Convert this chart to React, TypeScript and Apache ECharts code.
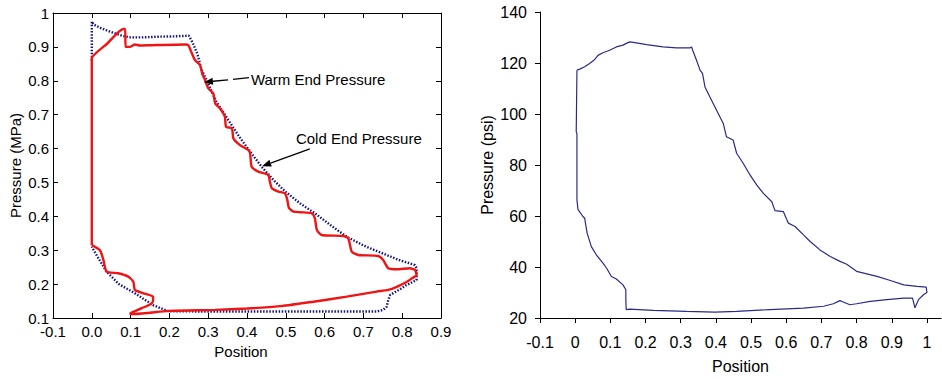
import React, { useEffect, useRef } from 'react';
import * as echarts from 'echarts';

// Left panel: pressure (MPa) vs position
const warmEndPressure: [number, number][] = [
  [0.0, 0.315], [0.0, 0.85], [0.0, 0.866], [0.04, 0.91], [0.081, 0.953], [0.086, 0.953],
  [0.087, 0.9], [0.098, 0.9], [0.111, 0.907], [0.124, 0.904], [0.154, 0.905], [0.24, 0.907],
  [0.249, 0.905], [0.256, 0.886], [0.266, 0.861], [0.279, 0.846], [0.285, 0.82], [0.292, 0.802],
  [0.3, 0.778], [0.313, 0.763], [0.318, 0.733], [0.33, 0.719], [0.343, 0.694], [0.346, 0.664],
  [0.361, 0.66], [0.365, 0.63], [0.382, 0.61], [0.403, 0.596], [0.408, 0.586], [0.412, 0.546],
  [0.429, 0.532], [0.455, 0.522], [0.459, 0.502], [0.464, 0.483], [0.481, 0.473], [0.498, 0.468],
  [0.504, 0.448], [0.508, 0.425], [0.52, 0.414], [0.537, 0.412], [0.567, 0.409], [0.575, 0.394],
  [0.58, 0.36], [0.592, 0.345], [0.648, 0.342], [0.661, 0.335], [0.67, 0.296], [0.687, 0.286],
  [0.738, 0.283], [0.751, 0.271], [0.764, 0.247], [0.786, 0.244], [0.82, 0.247], [0.833, 0.242],
  [0.837, 0.227], [0.825, 0.217], [0.811, 0.206], [0.786, 0.192], [0.764, 0.183], [0.734, 0.178],
  [0.657, 0.163], [0.571, 0.148], [0.485, 0.135], [0.4, 0.128], [0.318, 0.124], [0.197, 0.121],
  [0.111, 0.112], [0.098, 0.112], [0.103, 0.116], [0.129, 0.129], [0.155, 0.143], [0.158, 0.155],
  [0.158, 0.163], [0.133, 0.173], [0.111, 0.183], [0.107, 0.207], [0.094, 0.222], [0.068, 0.232],
  [0.038, 0.237], [0.03, 0.271], [0.021, 0.3], [0.0, 0.315],
];

const coldEndPressure: [number, number][] = [
  [0.0, 0.86], [0.0, 0.975], [0.005, 0.966], [0.02, 0.957], [0.04, 0.948], [0.06, 0.94],
  [0.08, 0.932], [0.1, 0.928], [0.13, 0.928], [0.17, 0.93], [0.21, 0.931], [0.25, 0.933],
  [0.26, 0.912], [0.272, 0.88], [0.283, 0.832], [0.296, 0.802], [0.32, 0.74], [0.352, 0.684],
  [0.38, 0.635], [0.408, 0.591], [0.438, 0.546], [0.47, 0.505], [0.5, 0.472], [0.537, 0.438],
  [0.575, 0.409], [0.62, 0.37], [0.657, 0.34], [0.7, 0.314], [0.738, 0.296], [0.79, 0.272],
  [0.833, 0.256], [0.837, 0.247], [0.837, 0.212], [0.811, 0.197], [0.799, 0.188], [0.769, 0.168],
  [0.764, 0.153], [0.76, 0.133], [0.751, 0.124], [0.734, 0.119], [0.6, 0.119], [0.5, 0.119],
  [0.4, 0.119], [0.3, 0.119], [0.197, 0.12], [0.158, 0.138], [0.111, 0.173], [0.07, 0.2],
  [0.038, 0.237], [0.015, 0.28], [0.0, 0.31],
];

// Right panel: pressure (psi) vs position
const psiCycle: [number, number][] = [
  [0.005, 117.2], [0.013, 117.6], [0.027, 118.5], [0.041, 119.8], [0.055, 121.3], [0.065, 123.0],
  [0.079, 124], [0.098, 125], [0.117, 126.3], [0.136, 127], [0.144, 127.6], [0.155, 128.3],
  [0.174, 127.9], [0.203, 127.2], [0.25, 126.3], [0.288, 125.9], [0.326, 125.9], [0.331, 126.3],
  [0.334, 125], [0.345, 121.1], [0.355, 117.2], [0.362, 115.9], [0.369, 110.6], [0.383, 106.7],
  [0.402, 101.5], [0.421, 96.3], [0.43, 91.1], [0.449, 89.8], [0.459, 84.6], [0.478, 80.6],
  [0.497, 76.1], [0.516, 72.2], [0.535, 68.9], [0.559, 65.6], [0.568, 62.1], [0.592, 61.7],
  [0.606, 57.2], [0.625, 55.9], [0.649, 52.6], [0.668, 50], [0.696, 46.7], [0.725, 44.1],
  [0.753, 42.2], [0.772, 41.1], [0.8, 38.3], [0.829, 37.3], [0.858, 36.3], [0.896, 34.7],
  [0.934, 33], [0.972, 32.4], [0.998, 32.1], [1.0, 30], [0.99, 29.1], [0.976, 27.2],
  [0.966, 24], [0.959, 27.8], [0.934, 27.8], [0.886, 27.2], [0.839, 26.5], [0.8, 25.6],
  [0.781, 25.2], [0.762, 26.3], [0.753, 26.8], [0.734, 25.6], [0.706, 24.6], [0.649, 23.9],
  [0.554, 23.3], [0.459, 22.6], [0.397, 22.3], [0.316, 22.6], [0.222, 23], [0.155, 23.5],
  [0.145, 23.3], [0.144, 27.2], [0.144, 31.1], [0.136, 33], [0.117, 35.3], [0.103, 36.3],
  [0.089, 39.6], [0.079, 41.5], [0.06, 44.8], [0.046, 48], [0.034, 53.3], [0.027, 59.1],
  [0.022, 59.8], [0.008, 62.6], [0.005, 66.3], [0.005, 92.4], [0.003, 93], [0.005, 117.2],
];

const rightPositionTicks = [-0.1, 0, 0.1, 0.2, 0.3, 0.4, 0.5, 0.6, 0.7, 0.8, 0.9, 1];

// Annotations (data coordinates of the left panel)
const annotationLabels = ['Warm End Pressure', 'Cold End Pressure'];
const annotationTextAt: [number, number][] = [[0.41, 0.805], [0.526, 0.631]];
const annotationTail: [number, number][] = [[0.405, 0.809], [0.562, 0.599]];
const annotationTip: [number, number][] = [[0.289, 0.796], [0.439, 0.548]];
const annotationDashed = [true, false];

const FONT = '"Liberation Sans", Arial, Helvetica, sans-serif';

export default function App() {
  const ref = useRef<HTMLDivElement>(null);

  useEffect(() => {
    if (!ref.current) return;
    const chart = echarts.init(ref.current, undefined, { renderer: 'svg' });

    const leftLabel = { color: '#000', fontSize: 15, fontFamily: FONT };
    const rightLabel = { color: '#000', fontSize: 16, fontFamily: FONT };
    const blackLine = { lineStyle: { color: '#000', width: 1 } };

    const option: any = {
      animation: false,
      backgroundColor: '#fff',
      grid: [
        { left: 53, right: 501, top: 13, bottom: 61, containLabel: false },
        { left: 540, right: 1, top: 12, bottom: 61, containLabel: false },
      ],
      xAxis: [
        {
          type: 'value', gridIndex: 0, min: -0.1, max: 0.9, interval: 0.1,
          axisLine: { show: true, onZero: false, ...blackLine },
          axisTick: { show: true, inside: true, length: 5, ...blackLine },
          axisLabel: { ...leftLabel, margin: 6, formatter: (v: number) => v.toFixed(1) },
          splitLine: { show: false },
          name: 'Position', nameLocation: 'middle', nameGap: 24,
          nameTextStyle: { ...leftLabel, padding: [0, 12, 0, 0] },
        },
        {
          type: 'value', gridIndex: 0, position: 'top', min: -0.1, max: 0.9, interval: 0.1,
          axisLine: { show: true, onZero: false, ...blackLine },
          axisTick: { show: true, inside: true, length: 5, ...blackLine },
          axisLabel: { show: false },
          splitLine: { show: false },
        },
        {
          type: 'value', gridIndex: 1, min: -0.1, max: 1.04, interval: 0.1,
          axisLine: { show: true, onZero: false, ...blackLine },
          axisTick: { show: true, inside: false, length: 5, customValues: rightPositionTicks, ...blackLine },
          axisLabel: {
            ...rightLabel, margin: 16, customValues: rightPositionTicks,
            formatter: (v: number) => (v > 1.001 ? '' : String(Math.round(v * 10) / 10)),
          },
          splitLine: { show: false },
          name: 'Position', nameLocation: 'middle', nameGap: 40,
          nameTextStyle: { ...rightLabel },
        },
      ],
      yAxis: [
        {
          type: 'value', gridIndex: 0, min: 0.1, max: 1, interval: 0.1,
          axisLine: { show: true, onZero: false, ...blackLine },
          axisTick: { show: true, inside: true, length: 5, ...blackLine },
          axisLabel: {
            ...leftLabel, margin: 4,
            formatter: (v: number) => (Math.abs(v - 1) < 1e-9 ? '1' : v.toFixed(1)),
          },
          splitLine: { show: false },
          name: 'Pressure (MPa)', nameLocation: 'middle', nameGap: 30,
          nameTextStyle: { ...leftLabel },
        },
        {
          type: 'value', gridIndex: 0, position: 'right', min: 0.1, max: 1, interval: 0.1,
          axisLine: { show: true, onZero: false, ...blackLine },
          axisTick: { show: true, inside: true, length: 5, ...blackLine },
          axisLabel: { show: false },
          splitLine: { show: false },
        },
        {
          type: 'value', gridIndex: 1, min: 20, max: 140, interval: 20,
          axisLine: { show: true, onZero: false, ...blackLine },
          axisTick: { show: true, inside: false, length: 5, ...blackLine },
          axisLabel: { ...rightLabel, margin: 13 },
          splitLine: { show: false },
          name: 'Pressure (psi)', nameLocation: 'middle', nameGap: 45,
          nameTextStyle: { ...rightLabel },
        },
      ],
      series: [
        {
          name: 'Cold End Pressure', type: 'line', xAxisIndex: 0, yAxisIndex: 0,
          data: coldEndPressure, showSymbol: false, symbol: 'none',
          lineStyle: { color: '#14147e', width: 2.4, type: [1.5, 1.6] },
          z: 2,
        },
        {
          name: 'Warm End Pressure', type: 'line', xAxisIndex: 0, yAxisIndex: 0,
          data: warmEndPressure, showSymbol: false, symbol: 'none', smooth: 0.2,
          lineStyle: { color: '#f01414', width: 2.4 },
          z: 3,
        },
        {
          name: 'Pressure', type: 'line', xAxisIndex: 2, yAxisIndex: 2,
          data: psiCycle, showSymbol: false, symbol: 'none',
          lineStyle: { color: '#2a2a8c', width: 1.2 },
          z: 2,
        },
      ],
    };

    chart.setOption(option);

    const px = (p: [number, number]) =>
      chart.convertToPixel({ xAxisIndex: 0, yAxisIndex: 0 }, p) as number[];

    const elements: any[] = [];
    annotationLabels.forEach((label, i) => {
      const t = px(annotationTextAt[i]);
      const tail = px(annotationTail[i]);
      const tip = px(annotationTip[i]);
      const dx = tip[0] - tail[0];
      const dy = tip[1] - tail[1];
      const len = Math.sqrt(dx * dx + dy * dy) || 1;
      const ux = dx / len;
      const uy = dy / len;
      const headLen = 9;
      const headW = 3.5;
      const bx = tip[0] - ux * headLen;
      const by = tip[1] - uy * headLen;
      elements.push({
        type: 'text', x: t[0], y: t[1], z: 10,
        style: { text: label, fill: '#000', fontSize: 15, fontFamily: FONT, align: 'left', verticalAlign: 'middle' },
      });
      elements.push({
        type: 'line', z: 10,
        shape: { x1: tail[0], y1: tail[1], x2: bx, y2: by },
        style: { stroke: '#000', lineWidth: 1.3, lineDash: annotationDashed[i] ? [16, 5] : null },
      });
      elements.push({
        type: 'polygon', z: 10,
        shape: { points: [[tip[0], tip[1]], [bx - uy * headW, by + ux * headW], [bx + uy * headW, by - ux * headW]] },
        style: { fill: '#000' },
      });
    });
    chart.setOption({ graphic: elements });

    return () => chart.dispose();
  }, []);

  return (
    <div
      ref={ref}
      style={{ position: 'absolute', left: 0, top: 0, width: 942, height: 379, background: '#fff' }}
    />
  );
}
